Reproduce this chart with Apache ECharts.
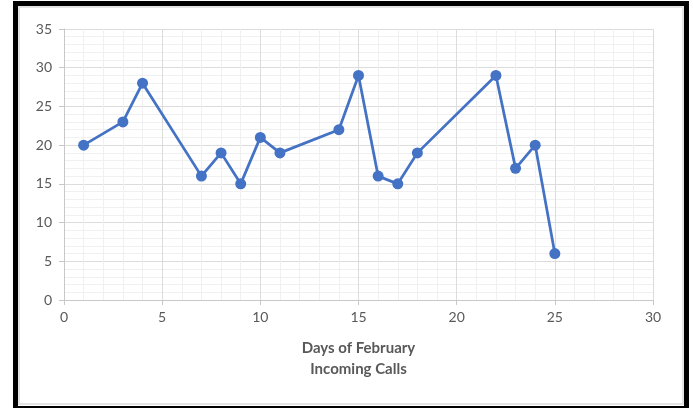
<!DOCTYPE html>
<html>
<head>
<meta charset="utf-8">
<script src="https://cdn.jsdelivr.net/npm/echarts@6/dist/echarts.min.js"></script>
<style>
  html, body { margin: 0; padding: 0; background: #fff; }
  #chart { position: absolute; left: 0; top: 0; width: 693px; height: 408px; }
  .frame { position: absolute; left: 13px; top: 1px; width: 676px; height: 410px;
           box-sizing: border-box; border: 5px solid #000; pointer-events: none; }
  .inner { position: absolute; left: 18px; top: 6px; width: 666px; height: 399px;
           box-sizing: border-box; border: 2px solid #e3e3e3; pointer-events: none; }
</style>
</head>
<body>
<div id="chart"></div>
<div class="inner"></div>
<div class="frame"></div>
<script>
// days of February and number of incoming calls
const days = [1, 3, 4, 7, 8, 9, 10, 11, 14, 15, 16, 17, 18, 22, 23, 24, 25];
const calls = [20, 23, 28, 16, 19, 15, 21, 19, 22, 29, 16, 15, 19, 29, 17, 20, 6];

const chart = echarts.init(document.getElementById('chart'));
const labelColor = '#595959';

chart.setOption({
  animation: false,
  grid: { left: 64, right: 40, top: 29, bottom: 108 },
  xAxis: {
    type: 'value',
    min: 0,
    max: 30,
    interval: 5,
    name: 'Days of February\nIncoming Calls',
    nameLocation: 'middle',
    nameGap: 38,
    nameTextStyle: { color: labelColor, fontSize: 15, fontWeight: 'bold', fontFamily: 'Lato', lineHeight: 21, verticalAlign: 'top' },
    axisLine: { show: true, lineStyle: { color: '#c8c8c8', width: 1 } },
    axisTick: { show: true, length: 5, lineStyle: { color: '#c8c8c8' } },
    axisLabel: { color: labelColor, fontSize: 14, fontFamily: 'Lato', margin: 10 },
    splitLine: { show: true, lineStyle: { color: '#dcdcdc', width: 1 } },
    minorTick: { show: false, splitNumber: 5 },
    minorSplitLine: { show: true, lineStyle: { color: '#f0f0f0', width: 1 } }
  },
  yAxis: {
    type: 'value',
    min: 0,
    max: 35,
    interval: 5,
    axisLine: { show: true, lineStyle: { color: '#c8c8c8', width: 1 } },
    axisTick: { show: true, length: 5, lineStyle: { color: '#c8c8c8' } },
    axisLabel: { color: labelColor, fontSize: 14, fontFamily: 'Lato', margin: 12 },
    splitLine: { show: true, lineStyle: { color: '#dcdcdc', width: 1 } },
    minorTick: { show: false, splitNumber: 5 },
    minorSplitLine: { show: true, lineStyle: { color: '#f0f0f0', width: 1 } }
  },
  series: [{
    type: 'line',
    data: days.map((d, i) => [d, calls[i]]),
    symbol: 'circle',
    symbolSize: 11,
    lineStyle: { color: '#4472C4', width: 2.75 },
    itemStyle: { color: '#4472C4' }
  }]
});
</script>
</body>
</html>
